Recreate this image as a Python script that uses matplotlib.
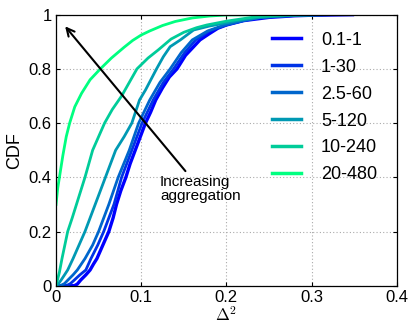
import matplotlib
matplotlib.use("Agg")
import matplotlib.pyplot as plt

plt.rcParams['font.family'] = ['Liberation Sans', 'DejaVu Sans']
plt.rcParams['mathtext.fontset'] = 'cm'

labels = ["0.1-1", "1-30", "2.5-60", "5-120", "10-240", "20-480"]
colors = ["#0000ff", "#0033e6", "#0066cc", "#0099b3", "#00cc99", "#00ff80"]

x_01_1 = [0, 0.0215, 0.025, 0.029, 0.035, 0.040, 0.044, 0.048, 0.055, 0.062, 0.067, 0.071, 0.076,
          0.082, 0.087, 0.093, 0.099, 0.105, 0.111, 0.117, 0.125, 0.133, 0.142, 0.152, 0.161, 0.169,
          0.18, 0.19, 0.2, 0.22, 0.25, 0.28, 0.3, 0.348]
y_01_1 = [0, 0, 0.006, 0.021, 0.04, 0.058, 0.08, 0.1, 0.15, 0.2, 0.25, 0.3, 0.35,
          0.4, 0.45, 0.5, 0.55, 0.6, 0.64, 0.685, 0.73, 0.77, 0.8, 0.85, 0.88, 0.907,
          0.93, 0.95, 0.962, 0.978, 0.99, 0.996, 0.998, 1.0]

x_1_30 = [0, 0.012, 0.017, 0.0215, 0.028, 0.035, 0.041, 0.049, 0.056, 0.062, 0.068, 0.077, 0.089,
          0.101, 0.114, 0.126, 0.138, 0.151, 0.164, 0.18, 0.2, 0.22, 0.24, 0.28, 0.32]
y_1_30 = [0, 0, 0.008, 0.021, 0.04, 0.058, 0.1, 0.15, 0.2, 0.25, 0.3, 0.4, 0.5,
          0.6, 0.685, 0.75, 0.8, 0.86, 0.907, 0.94, 0.962, 0.978, 0.99, 0.997, 1.0]

x_25_60 = [0, 0.005, 0.01, 0.014, 0.02, 0.025, 0.034, 0.043, 0.05, 0.056, 0.062, 0.073, 0.086,
           0.097, 0.11, 0.122, 0.134, 0.147, 0.16, 0.178, 0.198, 0.22, 0.24, 0.28, 0.32]
y_25_60 = [0, 0, 0.008, 0.021, 0.04, 0.058, 0.1, 0.15, 0.2, 0.25, 0.3, 0.4, 0.5,
           0.6, 0.685, 0.75, 0.8, 0.86, 0.907, 0.94, 0.962, 0.978, 0.99, 0.997, 1.0]

x_5_120 = [0, 0.003, 0.006, 0.01, 0.0137, 0.02, 0.027, 0.034, 0.046, 0.058, 0.07, 0.08, 0.089,
           0.098, 0.105, 0.118, 0.126, 0.134, 0.146, 0.1615, 0.18, 0.197, 0.22, 0.24, 0.27, 0.31]
y_5_120 = [0, 0.008, 0.021, 0.04, 0.058, 0.1, 0.15, 0.2, 0.3, 0.4, 0.5, 0.55, 0.6,
           0.685, 0.722, 0.8, 0.845, 0.882, 0.907, 0.9435, 0.958, 0.968, 0.982, 0.99, 0.997, 1.0]

x_10_240 = [0, 0.004, 0.007, 0.0137, 0.019, 0.024, 0.029, 0.034, 0.043, 0.05, 0.057, 0.066, 0.077,
            0.086, 0.095, 0.108, 0.12, 0.135, 0.15, 0.165, 0.177, 0.2, 0.236, 0.27, 0.3]
y_10_240 = [0, 0.05, 0.1, 0.2, 0.25, 0.3, 0.35, 0.4, 0.5, 0.55, 0.6, 0.65, 0.7,
            0.75, 0.8, 0.84, 0.87, 0.91, 0.935, 0.952, 0.962, 0.976, 0.993, 0.999, 1.0]

x_20_480 = [0, 0.002, 0.005, 0.008, 0.012, 0.016, 0.022, 0.03, 0.04, 0.052, 0.065, 0.08, 0.09,
            0.1, 0.11, 0.125, 0.14, 0.16, 0.18, 0.2, 0.28]
y_20_480 = [0.3, 0.36, 0.42, 0.48, 0.55, 0.6, 0.66, 0.71, 0.76, 0.80, 0.84, 0.88, 0.905,
            0.925, 0.94, 0.96, 0.975, 0.988, 0.995, 0.999, 1.0]

series_x = [x_01_1, x_1_30, x_25_60, x_5_120, x_10_240, x_20_480]
series_y = [y_01_1, y_1_30, y_25_60, y_5_120, y_10_240, y_20_480]
line_widths = [2.4, 2.0, 2.0, 2.0, 2.0, 2.0]

xticks = [0, 0.1, 0.2, 0.3, 0.4]
yticks = [0, 0.2, 0.4, 0.6, 0.8, 1]
xticklabels = ["0", "0.1", "0.2", "0.3", "0.4"]
yticklabels = ["0", "0.2", "0.4", "0.6", "0.8", "1"]

fig = plt.figure(figsize=(4.15, 3.34), dpi=100)
ax = fig.add_axes([0.135, 0.1446, 0.821, 0.8114])

for xs, ys, lab, c, lw in zip(series_x, series_y, labels, colors, line_widths):
    ax.plot(xs, ys, color=c, lw=lw, label=lab, solid_joinstyle='round')

ax.set_xlim(0, 0.4)
ax.set_ylim(0, 1)
ax.set_xticks(xticks)
ax.set_xticklabels(xticklabels)
ax.set_yticks(yticks)
ax.set_yticklabels(yticklabels)
ax.tick_params(direction='in', length=3, width=0.8, labelsize=12, top=True, right=True, pad=3, colors='black')
ax.grid(True, linestyle=(0, (1, 2)), color='#aaaaaa', lw=0.8)
for s in ax.spines.values():
    s.set_color('black')
    s.set_linewidth(0.9)

ax.set_xlabel(r'$\Delta^2$', fontsize=12, labelpad=0)
ax.set_ylabel('CDF', fontsize=13, labelpad=4)

ax.annotate('', xy=(0.0086, 0.965), xytext=(0.154, 0.415),
            arrowprops=dict(arrowstyle='->', color='black', lw=1.5, mutation_scale=14))
ax.text(0.122, 0.408, 'Increasing\naggregation', fontsize=11, ha='left', va='top', linespacing=1.0)

leg = ax.legend(loc='upper right', frameon=False, fontsize=13, handlelength=1.6,
                handletextpad=1.1, labelspacing=0.55, bbox_to_anchor=(0.99, 0.997))
for l in leg.get_lines():
    l.set_linewidth(2.5)

fig.savefig('out.png', dpi=100)
